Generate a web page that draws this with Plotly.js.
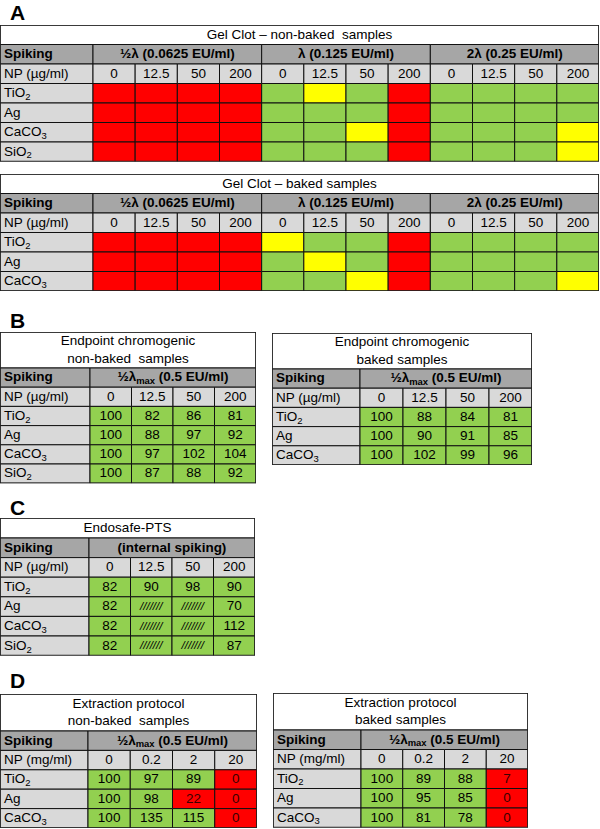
<!DOCTYPE html>
<html><head><meta charset="utf-8">
<script src="https://cdn.plot.ly/plotly-3.0.1.min.js"></script>
<style>html,body{margin:0;padding:0;background:#fff}</style>
</head><body><div id="chart" style="width:600px;height:829px"></div>
<script>
// ---------------- data ----------------
const gelClotDoses = ['½λ (0.0625 EU/ml)', 'λ (0.125 EU/ml)', '2λ (0.25 EU/ml)'];
const chromoDose = ['½λ<sub>max</sub> (0.5 EU/ml)'];
const ptsDose = ['(internal spiking)'];
const npConcUg = ['0', '12.5', '50', '200'];
const npConcMg = ['0', '0.2', '2', '20'];
const materials4 = ['TiO<sub>2</sub>', 'Ag', 'CaCO<sub>3</sub>', 'SiO<sub>2</sub>'];
const materials3 = ['TiO<sub>2</sub>', 'Ag', 'CaCO<sub>3</sub>'];
// Gel clot outcome per cell: R = red, G = green, Y = yellow
const gelNonBaked = [
  ['R','R','R','R','G','Y','G','R','G','G','G','G'],
  ['R','R','R','R','G','G','G','R','G','G','G','G'],
  ['R','R','R','R','G','G','Y','R','G','G','G','Y'],
  ['R','R','R','R','G','G','G','R','G','G','G','Y']
];
const gelBaked = [
  ['R','R','R','R','Y','G','G','R','G','G','G','G'],
  ['R','R','R','R','G','Y','G','R','G','G','G','G'],
  ['R','R','R','R','G','G','Y','R','G','G','G','Y']
];
const chromoNonBaked = [[100,82,86,81],[100,88,97,92],[100,97,102,104],[100,87,88,92]];
const chromoBaked = [[100,88,84,81],[100,90,91,85],[100,102,99,96]];
const ptsValues = [[82,90,98,90],[82,null,null,70],[82,null,null,112],[82,null,null,87]];
const extractNonBaked = [[100,97,89,0],[100,98,22,0],[100,135,115,0]];
const extractBaked = [[100,89,88,7],[100,95,85,0],[100,81,78,0]];
const panelLetters = ['A','B','C','D'];

// ---------------- styling / layout ----------------
const W = 600, H = 829;
const FONT = 'Liberation Sans, Arial, Helvetica, sans-serif';
const FS = 13.5;
const COL = {R:'#ff0000', G:'#92d050', Y:'#ffff00', head:'#a6a6a6', sub:'#d9d9d9'};
const letterPos = [{x:8,y:13},{x:8,y:320},{x:8,y:508},{x:8,y:680}];

const gelStatus = d => (r,c) => ({fill: COL[d[r][c]], text: ''});
const numStatus = d => (r,c) => ({fill: COL.G, text: String(d[r][c])});
const ptsStatus = d => (r,c) => d[r][c] === null
  ? {fill: COL.G, text: '<i>///////</i>', size: 11.5}
  : {fill: COL.G, text: String(d[r][c])};
const extStatus = d => (r,c) => d[r][c] < 50
  ? {fill: COL.R, text: String(d[r][c]), color: '#3a0000'}
  : {fill: COL.G, text: String(d[r][c])};

const tables = [
  {title:'Gel Clot – non-baked  samples', groups:gelClotDoses, npLabel:'NP (µg/ml)', np:npConcUg, rows:materials4, status:gelStatus(gelNonBaked),
   box:{left:0,right:599,top:25,titleH:19.5,rowH:19.5,labelW:93}},
  {title:'Gel Clot – baked samples', groups:gelClotDoses, npLabel:'NP (µg/ml)', np:npConcUg, rows:materials3, status:gelStatus(gelBaked),
   box:{left:0,right:599,top:174,titleH:19.5,rowH:19.5,labelW:93}},
  {title:'Endpoint chromogenic<br>non-baked  samples', groups:chromoDose, npLabel:'NP (µg/ml)', np:npConcUg, rows:materials4, status:numStatus(chromoNonBaked),
   box:{left:0,right:256,top:332,titleH:36,rowH:19.2,labelW:90}},
  {title:'Endpoint chromogenic<br>baked samples', groups:chromoDose, npLabel:'NP (µg/ml)', np:npConcUg, rows:materials3, status:numStatus(chromoBaked),
   box:{left:272,right:532,top:333,titleH:36,rowH:19.2,labelW:88}},
  {title:'Endosafe-PTS', groups:ptsDose, npLabel:'NP (µg/ml)', np:npConcUg, rows:materials4, status:ptsStatus(ptsValues),
   box:{left:0,right:255,top:518,titleH:20,rowH:19.6,labelW:89}},
  {title:'Extraction protocol<br>non-baked  samples', groups:chromoDose, npLabel:'NP (mg/ml)', np:npConcMg, rows:materials3, status:extStatus(extractNonBaked),
   box:{left:0,right:257,top:694,titleH:37,rowH:19.4,labelW:88}},
  {title:'Extraction protocol<br>baked samples', groups:chromoDose, npLabel:'NP (mg/ml)', np:npConcMg, rows:materials3, status:extStatus(extractBaked),
   box:{left:273,right:528,top:693,titleH:37,rowH:19.5,labelW:88}}
];

const traces = [];
const layout = {
  width: W, height: H, margin:{l:0,r:0,t:0,b:0}, paper_bgcolor:'#fff', plot_bgcolor:'rgba(0,0,0,0)',
  showlegend:false, barmode:'overlay', font:{family:FONT, size:FS, color:'#000'}, annotations:[]
};

tables.forEach((t, i) => {
  const ax = i === 0 ? '' : String(i + 1);
  const b = t.box;
  const tw = b.right - b.left;
  const per = t.np.length;
  const ncol = t.groups.length * per;
  const cw = (tw - b.labelW) / ncol;
  const th = b.titleH + (2 + t.rows.length) * b.rowH;
  const cells = [];
  const add = (x0,x1,y0,y1,fill,text,align,size,color) =>
    cells.push({x0,x1,y0,y1,fill,text,align,size:size||FS,color:color||'#000'});
  add(0, tw, 0, b.titleH, '#ffffff', t.title, 'c');
  let y = b.titleH;
  add(0, b.labelW, y, y + b.rowH, COL.head, '<b>Spiking</b>', 'l');
  t.groups.forEach((g,k) => add(b.labelW + k*per*cw, b.labelW + (k+1)*per*cw, y, y + b.rowH, COL.head, '<b>' + g + '</b>', 'c'));
  y += b.rowH;
  add(0, b.labelW, y, y + b.rowH, COL.sub, t.npLabel, 'l');
  for (let c = 0; c < ncol; c++) add(b.labelW + c*cw, b.labelW + (c+1)*cw, y, y + b.rowH, COL.sub, t.np[c % per], 'c');
  y += b.rowH;
  t.rows.forEach((m, r) => {
    add(0, b.labelW, y, y + b.rowH, COL.sub, m, 'l');
    for (let c = 0; c < ncol; c++) {
      const s = t.status(r, c);
      add(b.labelW + c*cw, b.labelW + (c+1)*cw, y, y + b.rowH, s.fill, s.text, 'c', s.size, s.color);
    }
    y += b.rowH;
  });

  traces.push({
    type:'bar', orientation:'h',
    base: cells.map(c => c.x0), x: cells.map(c => c.x1 - c.x0),
    y: cells.map(c => (c.y0 + c.y1) / 2), width: cells.map(c => c.y1 - c.y0),
    marker:{color: cells.map(c => c.fill), line:{color:'#111', width:1}},
    xaxis:'x' + ax, yaxis:'y' + ax, hoverinfo:'skip', cliponaxis:false
  });
  // outer frame
  traces.push({
    type:'bar', orientation:'h', base:[0], x:[tw], y:[th/2], width:[th],
    marker:{color:'rgba(0,0,0,0)', line:{color:'#222', width:1.6}},
    xaxis:'x' + ax, yaxis:'y' + ax, hoverinfo:'skip', cliponaxis:false
  });
  const tc = cells.filter(c => c.text !== '');
  traces.push({
    type:'scatter', mode:'text',
    x: tc.map(c => c.align === 'l' ? c.x0 + 4 : (c.x0 + c.x1) / 2),
    y: tc.map(c => (c.y0 + c.y1) / 2 + 0.5),
    text: tc.map(c => c.text),
    textposition: tc.map(c => c.align === 'l' ? 'middle right' : 'middle center'),
    textfont:{family:FONT, size: tc.map(c => c.size), color: tc.map(c => c.color)},
    xaxis:'x' + ax, yaxis:'y' + ax, hoverinfo:'skip', cliponaxis:false
  });
  layout['xaxis' + ax] = {domain:[b.left / W, b.right / W], range:[0, tw], visible:false, fixedrange:true, anchor:'y' + ax};
  layout['yaxis' + ax] = {domain:[1 - (b.top + th) / H, 1 - b.top / H], range:[th, 0], visible:false, fixedrange:true, anchor:'x' + ax};
});

panelLetters.forEach((L, k) => layout.annotations.push({
  text:'<b>' + L + '</b>', xref:'paper', yref:'paper', x: letterPos[k].x / W, y: 1 - letterPos[k].y / H,
  xanchor:'left', yanchor:'middle', showarrow:false, font:{family:FONT, size:21, color:'#000'}
}));

Plotly.newPlot('chart', traces, layout, {displayModeBar:false, staticPlot:true});
</script>
</body></html>
